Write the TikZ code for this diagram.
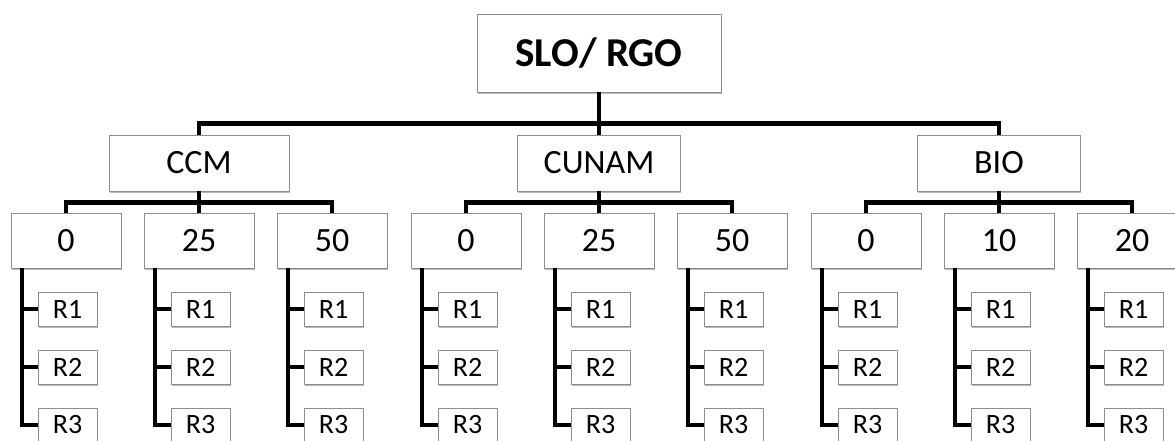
\documentclass[tikz,border=0pt]{standalone}
\usepackage{fontspec}
\setmainfont{Carlito}
\usetikzlibrary{shadows,calc}
\definecolor{boxgray}{HTML}{8E8E8E}
\begin{document}
\begin{tikzpicture}[x=1pt,y=-1pt,
  box/.style={draw=boxgray, line width=0.9pt, fill=white, inner sep=0pt,
    drop shadow={shadow xshift=0.6pt, shadow yshift=-2.2pt, opacity=0.28, fill=black}},
  topbox/.style={box, minimum width=244pt, minimum height=78pt,
    font=\fontsize{41}{48}\selectfont\bfseries},
  midbox/.style={box, minimum height=56pt, font=\fontsize{34}{40}\selectfont},
  numbox/.style={box, minimum width=110pt, minimum height=55pt, font=\fontsize{34}{40}\selectfont},
  rbox/.style={box, minimum width=59pt, minimum height=34pt, font=\fontsize{28}{33}\selectfont},
  conn/.style={line width=4.6pt, black}]
\useasboundingbox (0,0) rectangle (1175,440);
\clip (0,0) rectangle (1175,440);

% root
\node[topbox] (top) at (599,53) {SLO/ RGO};

% institutions, their levels and replicates
\foreach \g/\cx/\lab/\w/\a/\b/\c in {ccm/199/CCM/180/0/25/50,
    cunam/599/CUNAM/163/0/25/50, bio/999/BIO/163/0/10/20} {
  \node[midbox, minimum width=\w pt] (\g) at (\cx,163) {\lab};
  \draw[conn] (top.south) -- ++(0,31) -| (\g.north);
  \foreach \k/\v [count=\i] in {-133/\a, 0/\b, 133/\c} {
    \node[numbox] (\g\i) at (\cx+\k,240.5) {\v};
    \draw[conn] (\g.south) -- ++(0,11) -| (\g\i.north);
    \coordinate (\g\i s) at ([xshift=11.5pt]\g\i.south west);
    \foreach \r/\ry in {1/309,2/367,3/425} {
      \node[rbox] (\g\i r\r) at (\cx+\k+1.5,\ry) {R\r};
    }
    \draw[conn] (\g\i s) |- (\g\i r3.west);
    \draw[conn] (\g\i s |- \g\i r1.west) -- (\g\i r1.west);
    \draw[conn] (\g\i s |- \g\i r2.west) -- (\g\i r2.west);
  }
}
\end{tikzpicture}
\end{document}
